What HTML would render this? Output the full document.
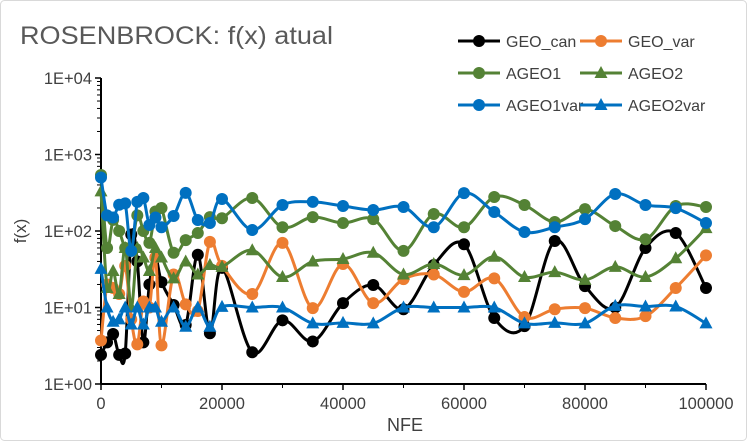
<!DOCTYPE html>
<html><head><meta charset="utf-8"><style>
body{margin:0;background:#fff;}
svg{display:block;font-family:"Liberation Sans","DejaVu Sans",sans-serif;}
</style></head><body>
<svg id="chart" width="747" height="441" viewBox="0 0 747 441">
<rect x="0.5" y="0.5" width="746" height="440" rx="4" fill="#fff" stroke="#d9d9d9"/>
<text x="20" y="44" font-size="25" fill="#595959" textLength="313" lengthAdjust="spacingAndGlyphs">ROSENBROCK: f(x) atual</text>
<text x="405" y="431" font-size="18" fill="#404040" text-anchor="middle">NFE</text>
<text transform="translate(26,231) rotate(-90)" font-size="17" fill="#404040" text-anchor="middle">f(x)</text>
<g id="axes"></g><g id="series"></g><g id="legend"></g>
</svg>
<script>
const xVals=[0,1000,2000,3000,4000,5000,6000,7000,8000,9000,10000,12000,14000,16000,18000,20000,25000,30000,35000,40000,45000,50000,55000,60000,65000,70000,75000,80000,85000,90000,95000,100000];
const geoCan=[2.4,3.5,4.5,2.4,2.5,90,40,3.5,20,45,21.5,10.8,5.9,49,4.6,33,2.6,6.8,3.6,11.4,19.7,9.5,36,67,7.3,5.7,74,19,10,60,94,18];
const geoVar=[3.7,20,18,15,35,7,3.3,12,10,45,3.2,27,11,9,72,35,15,70,9.8,37,11.4,23.5,27,16,24,7.5,9.5,9.8,7.3,7.7,18,48];
const ageo1=[540,60,140,100,60,55,160,100,70,180,200,52,76,94,152,147,270,112,152,127,143,55,167,112,278,219,131,193,116,78,212,206];
const ageo2=[330,18,30,15,60,10,60,45,30,60,45,24,40,27,36,34,56,25,40,43,52,27,37,26.5,46,25,29,23,34,25,44,109];
const ageo1var=[500,160,150,220,230,55,240,270,120,150,112,157,315,139,127,262,103,219,240,212,188,206,112,313,177,97,112,143,305,219,199,127];
const ageo2var=[32,10,6.5,7,10,6,10,6,10,10,6.5,10,5.6,10,5.6,10.2,10,10,6.2,6.3,6.2,10,10,10,10,6.2,6.3,6.2,10.5,10.3,10.3,6.2];
const xTicks=[0,20000,40000,60000,80000,100000];
const xTickLabels=["0","20000","40000","60000","80000","100000"];
const yTicks=[1,10,100,1000,10000];
const yTickLabels=["1E+00","1E+01","1E+02","1E+03","1E+04"];
const seriesNames=["GEO_can","GEO_var","AGEO1","AGEO2","AGEO1var","AGEO2var"];
const seriesColors=["#000000","#ED7D31","#548235","#548235","#0070C0","#0070C0"];
const seriesMarkers=["circle","circle","circle","tri","circle","tri"];
const seriesData=[geoCan,geoVar,ageo1,ageo2,ageo1var,ageo2var];

const X0=101,X1=706,Y0=384,Y1=78;
function sx(v){return X0+(v-0)/100000*(X1-X0);}
function sy(v){return Y0-(Math.log10(v)-0)/4*(Y0-Y1);}
const NS="http://www.w3.org/2000/svg";
function mk(t,a,p){const e=document.createElementNS(NS,t);for(const k in a)e.setAttribute(k,a[k]);p.appendChild(e);return e;}
const axes=document.getElementById('axes');
const ax=mk('line',{x1:X0,y1:Y1,x2:X0,y2:Y0,stroke:'#000','stroke-width':2},axes);


const bx=mk('line',{x1:X0,y1:Y0,x2:X1,y2:Y0,stroke:'#000','stroke-width':2},axes);


yTicks.forEach((v,i)=>{
  const y=sy(v);
  mk('line',{x1:X0-6,y1:y,x2:X0,y2:y,stroke:'#000','stroke-width':1.5},axes);
  if(i<yTicks.length-1){for(let m=2;m<10;m++){const yy=sy(v*m);mk('line',{x1:X0-4,y1:yy,x2:X0,y2:yy,stroke:'#000','stroke-width':1},axes);}}
  const t=mk('text',{x:X0-9,y:y+6,'font-size':16.5,fill:'#404040','text-anchor':'end'},axes);
  t.textContent=yTickLabels[i];
  
  
});
xTicks.forEach((v,i)=>{
  const x=sx(v);
  mk('line',{x1:x,y1:Y0,x2:x,y2:Y0+6,stroke:'#000','stroke-width':1.5},axes);
  const t=mk('text',{x:x,y:Y0+25,'font-size':16.5,fill:'#404040','text-anchor':'middle'},axes);
  t.textContent=xTickLabels[i];
  
  
});
for(let v=10000;v<100000;v+=20000){const x=sx(v);mk('line',{x1:x,y1:Y0,x2:x,y2:Y0+4,stroke:'#000','stroke-width':1},axes);}
function smoothPath(pts){
  let d='M'+pts[0][0]+','+pts[0][1];
  for(let i=0;i<pts.length-1;i++){
    const p0=pts[i-1]||pts[i],p1=pts[i],p2=pts[i+1],p3=pts[i+2]||p2;
    const c1=[p1[0]+(p2[0]-p0[0])/6,p1[1]+(p2[1]-p0[1])/6];
    const c2=[p2[0]-(p3[0]-p1[0])/6,p2[1]-(p3[1]-p1[1])/6];
    d+=' C'+c1[0]+','+c1[1]+' '+c2[0]+','+c2[1]+' '+p2[0]+','+p2[1];
  }
  return d;
}
function marker(type,x,y,color,parent){
  if(type==='circle')return mk('circle',{cx:x,cy:y,r:6,fill:color},parent);
  return mk('path',{d:`M${x},${y-7}L${x+6.5},${y+5}L${x-6.5},${y+5}Z`,fill:color},parent);
}
const sg=document.getElementById('series');
seriesData.forEach((data,si)=>{
  const g=mk('g',{},sg);
  
  
  const pts=data.map((v,i)=>[sx(xVals[i]),sy(v)]);
  mk('path',{d:smoothPath(pts),fill:'none',stroke:seriesColors[si],'stroke-width':3},g);
  pts.forEach(p=>{
    const m=marker(seriesMarkers[si],p[0],p[1],seriesColors[si],g);
    
    
  });
});
const lg=document.getElementById('legend');
const legX=[458,580],legY=[41,73,105];
seriesNames.forEach((n,i)=>{
  const x=legX[i%2],y=legY[Math.floor(i/2)];
  const g=mk('g',{},lg);
  
  
  mk('line',{x1:x,y1:y,x2:x+42,y2:y,stroke:seriesColors[i],'stroke-width':3},g);
  marker(seriesMarkers[i],x+21,y,seriesColors[i],g);
  const t=mk('text',{x:x+48,y:y+6,'font-size':16,fill:'#404040'},g);
  t.textContent=n;
});
</script>
</body></html>
